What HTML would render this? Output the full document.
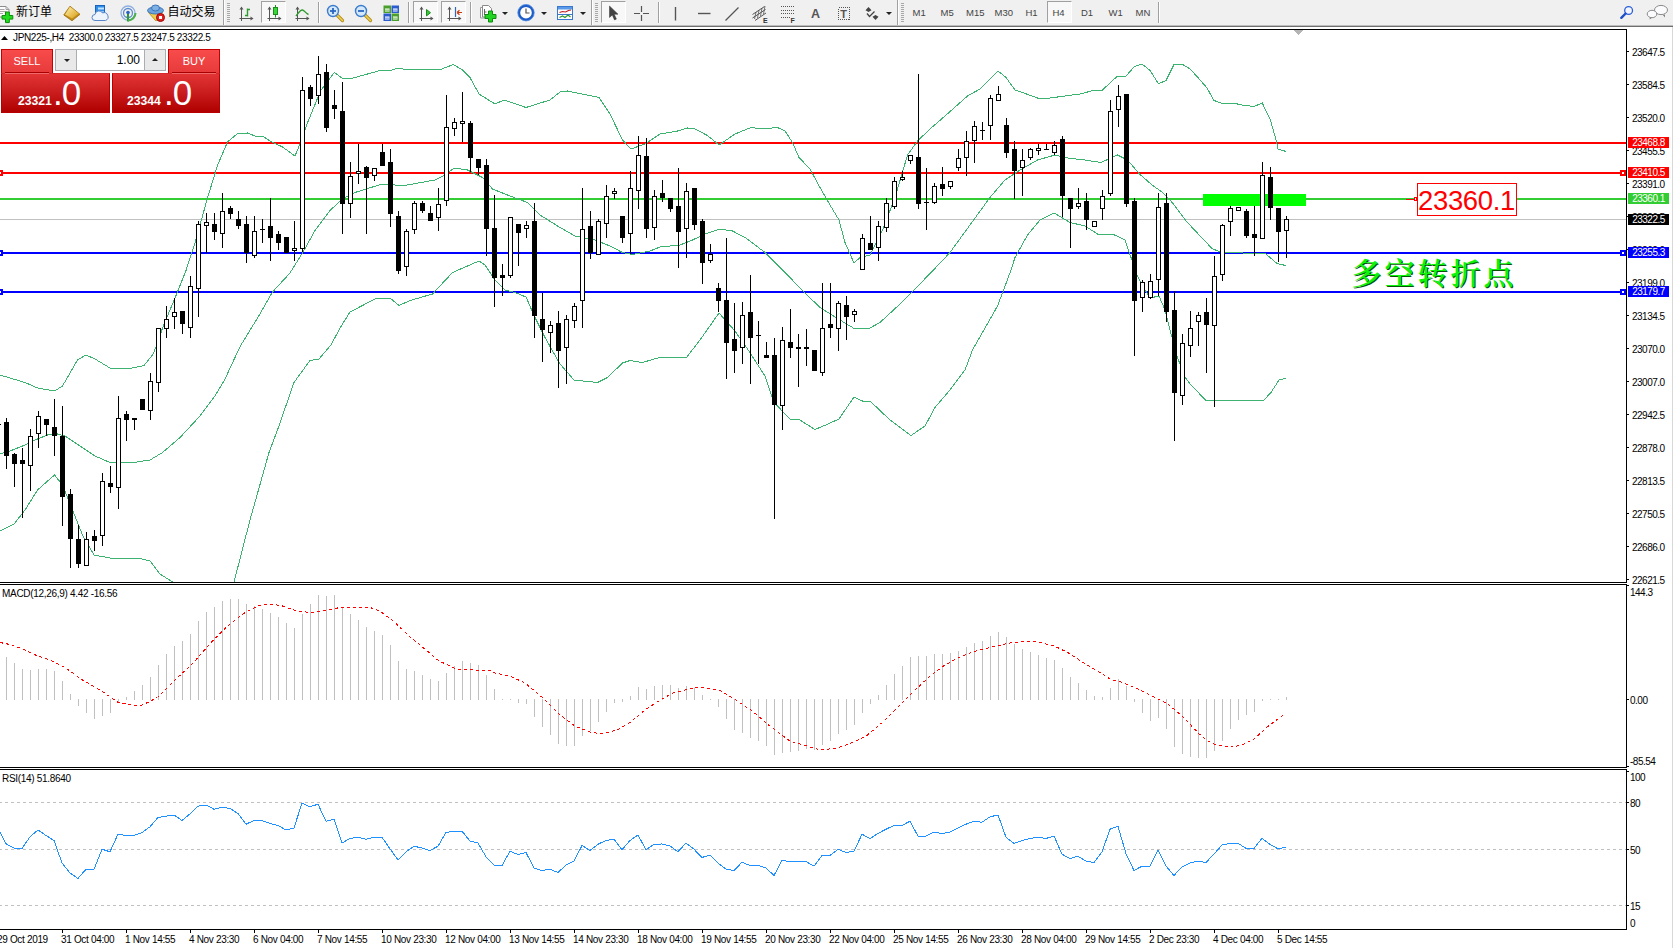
<!DOCTYPE html>
<html><head><meta charset="utf-8"><title>JPN225-,H4</title>
<style>
html,body{margin:0;padding:0;}
body{width:1673px;height:948px;overflow:hidden;background:#fff;position:relative;font-family:"Liberation Sans","Noto Sans CJK SC",sans-serif;color:#000;}
.ch{position:absolute;left:0;top:0;}
.ax{position:absolute;left:1632px;font-size:10px;letter-spacing:-0.5px;line-height:12px;height:12px;white-space:nowrap;}
.pb{position:absolute;left:1628px;width:41px;height:11px;color:#fff;font-size:10px;letter-spacing:-0.5px;line-height:11px;text-align:center;white-space:nowrap;overflow:hidden;}
.tm{position:absolute;top:933.5px;font-size:10px;letter-spacing:-0.33px;line-height:12px;white-space:nowrap;}
.lb{position:absolute;font-size:10px;letter-spacing:-0.3px;line-height:12px;white-space:nowrap;}
#tb{position:absolute;left:0;top:0;width:1673px;height:25px;background:#f0f0f0;}
#tb1{position:absolute;left:0;top:25px;width:1673px;height:1px;background:#bdbdbd;}
#tb2{position:absolute;left:0;top:26px;width:1673px;height:1px;background:#6e6e6e;}
.rb{position:absolute;right:0;top:27px;width:1px;height:921px;background:#d8d8d8;}
#big{position:absolute;left:1417px;top:183px;width:98px;height:31px;border:1px solid #f00;background:#fff;color:#f00;font-size:27.500px;line-height:33px;text-align:left;text-indent:0;white-space:nowrap;letter-spacing:-0.350px;overflow:hidden;}
#cn{position:absolute;left:1351.500px;top:250.700px;font-family:"Noto Serif CJK SC","Noto Sans CJK SC",serif;font-weight:600;font-size:30px;letter-spacing:3px;line-height:40px;color:#0cf40c;white-space:nowrap;text-shadow:1px 0.600px 0 #085008;}
/* trade panel */
.tp{position:absolute;}
.sellt,.buyt{position:absolute;top:49px;height:25px;width:52px;background:linear-gradient(#f84c4c,#e63a3a);border:1px solid #c40000;border-bottom:none;box-sizing:border-box;color:#fff;font-size:11px;line-height:22px;text-align:center;}
.sellt{left:1px;}
.buyt{left:168px;}
.pbx{position:absolute;top:73px;height:40px;box-sizing:border-box;border:1px solid #b80000;border-top-color:#d42a2a;background:linear-gradient(#e23434,#c91c1c 50%,#b00000);color:#fff;}
.pbx .s{position:absolute;font-weight:bold;font-size:12.200px;line-height:14px;top:20px;}
.pbx .b{position:absolute;font-size:35px;line-height:34px;top:2px;letter-spacing:-1px}
.ul{position:absolute;top:72px;height:1px;width:44px;background:#a80000;}
.ul2{position:absolute;top:73px;height:1px;width:44px;background:#f06a6a;}
.vol{position:absolute;left:55px;top:49px;width:111px;height:22px;box-sizing:border-box;border:1px solid #abadb3;background:#fff;}
.vol .btn{position:absolute;top:0;width:20px;height:20px;background:#e9e9e9;}
.vol .v{position:absolute;right:25px;top:0;font-size:12px;line-height:20px;}
/* toolbar */
.ti{position:absolute;top:0;}
.tt{position:absolute;top:4px;font-size:12px;line-height:16px;white-space:nowrap;}
.sep{position:absolute;top:2px;width:1px;height:21px;background:#a0a0a0;}
.grip{position:absolute;top:3px;width:3px;height:19px;background:repeating-linear-gradient(#a8a8a8 0 1px,#f0f0f0 1px 2px);}
.tf{position:absolute;top:7px;font-size:9.5px;line-height:12px;color:#444;white-space:nowrap;}
.prs{position:absolute;top:1px;height:22px;box-sizing:border-box;border:1px solid;border-color:#a0a0a0 #fff #fff #a0a0a0;background:#f8f8f8;}
.dd{position:absolute;top:12px;width:0;height:0;border-left:3px solid transparent;border-right:3px solid transparent;border-top:3px solid #222;}

</style></head><body>
<svg class="ch" width="1673" height="948" viewBox="0 0 1673 948" shape-rendering="crispEdges"><defs><clipPath id="cm"><rect x="0" y="30" width="1626" height="552"/></clipPath></defs><rect x="0" y="142" width="1626" height="2" fill="#ff0000"/>
<rect x="0" y="172" width="1626" height="2" fill="#ff0000"/>
<rect x="0" y="198" width="1626" height="2" fill="#32cd32"/>
<rect x="0" y="219" width="1626" height="1" fill="#c0c0c0"/>
<rect x="0" y="252" width="1626" height="2" fill="#0000ff"/>
<rect x="0" y="291" width="1626" height="2" fill="#0000ff"/>
<rect x="1203" y="194" width="103" height="12" fill="#00ff00"/>
<rect x="-3" y="170" width="6" height="6" fill="#ff0000"/><rect x="-1" y="172" width="2" height="2" fill="#fff"/>
<rect x="1620" y="170" width="6" height="6" fill="#ff0000"/><rect x="1622" y="172" width="2" height="2" fill="#fff"/>
<rect x="-3" y="250" width="6" height="6" fill="#0000ff"/><rect x="-1" y="252" width="2" height="2" fill="#fff"/>
<rect x="1620" y="250" width="6" height="6" fill="#0000ff"/><rect x="1622" y="252" width="2" height="2" fill="#fff"/>
<rect x="-3" y="289" width="6" height="6" fill="#0000ff"/><rect x="-1" y="291" width="2" height="2" fill="#fff"/>
<rect x="1620" y="289" width="6" height="6" fill="#0000ff"/><rect x="1622" y="291" width="2" height="2" fill="#fff"/>
<polyline points="0.0,375.0 25.0,382.5 37.5,388.0 54.5,391.0 62.5,386.0 77.5,360.0 86.0,355.0 95.0,359.0 110.0,368.0 117.5,369.0 132.5,368.0 144.0,365.5 152.5,355.0 157.0,345.0 162.5,328.0 175.0,298.0 186.0,270.5 195.0,243.0 207.5,198.0 217.5,165.5 227.5,142.0 237.5,133.5 247.5,133.0 255.0,136.0 262.5,136.0 270.0,141.0 282.5,147.0 295.0,156.0 300.0,144.0 307.0,124.0 314.3,106.3 320.3,91.3 324.3,85.7 329.3,79.2 334.4,72.4 342.4,78.5 351.4,78.5 380.5,70.4 390.6,70.4 397.6,68.2 402.6,68.2 403.6,69.5 418.0,69.5 439.0,70.0 453.5,64.5 462.5,70.0 470.0,77.5 479.0,94.0 495.0,104.0 504.0,100.0 526.0,107.5 550.0,100.0 560.0,92.0 567.5,91.0 599.0,97.5 610.0,114.0 622.5,140.0 631.0,149.0 645.0,144.0 660.0,134.0 677.5,131.0 687.5,128.0 695.0,129.0 707.5,135.5 719.0,145.0 735.0,134.0 751.0,127.5 762.5,129.0 777.5,127.5 785.0,131.0 792.5,142.5 799.0,157.5 810.0,169.0 820.0,187.5 830.0,205.0 839.0,220.0 845.0,242.5 854.0,263.0 860.0,257.5 870.0,255.0 882.5,230.0 895.0,197.5 907.5,155.0 917.5,141.0 930.0,129.0 945.0,116.0 967.5,96.0 980.0,89.0 998.0,71.0 1006.0,77.5 1015.0,90.0 1022.5,92.5 1037.5,98.0 1050.0,98.0 1080.0,94.0 1095.0,90.0 1102.5,90.0 1117.5,76.0 1126.0,76.0 1130.0,71.6 1134.4,66.6 1142.0,64.0 1150.0,70.4 1158.5,83.7 1166.0,80.5 1174.3,64.0 1182.0,64.0 1190.0,69.0 1198.4,78.0 1207.0,88.0 1214.0,100.5 1221.8,103.3 1234.4,103.3 1242.7,105.2 1254.0,106.5 1262.3,103.0 1270.5,120.4 1276.8,142.5 1278.0,148.9 1285.7,151.4" fill="none" stroke="#3cb371" stroke-width="1" clip-path="url(#cm)"/>
<polyline points="0.0,454.0 10.0,451.0 25.0,445.0 37.5,439.0 47.5,435.0 57.5,434.0 65.0,436.0 80.0,446.0 95.0,456.0 110.0,462.5 130.0,463.0 150.0,460.0 162.5,452.5 180.0,437.5 200.0,416.0 215.0,396.0 225.0,379.0 235.0,357.5 241.0,345.0 257.5,318.0 272.5,292.0 290.0,273.0 302.5,253.0 315.0,230.5 330.0,210.5 342.5,199.0 355.0,192.5 367.5,188.5 382.5,184.0 390.0,184.0 400.0,186.0 410.0,184.5 435.0,180.0 445.0,175.0 454.0,168.0 467.5,170.0 482.5,177.5 492.5,189.0 510.0,196.0 527.5,202.5 540.0,215.0 560.0,227.5 575.0,236.0 595.0,240.0 610.0,246.0 622.5,252.5 632.5,254.5 650.0,251.0 660.0,247.0 680.0,245.0 692.5,240.0 705.0,234.0 720.0,229.0 732.5,231.0 745.0,237.5 765.0,252.5 785.0,272.5 805.0,293.0 820.0,307.5 840.0,320.0 855.0,329.0 870.0,328.0 880.0,322.5 900.0,304.0 915.0,289.0 932.5,271.0 950.0,252.5 970.0,225.0 990.0,197.5 1005.0,180.0 1020.0,170.0 1037.5,160.0 1055.0,155.0 1067.5,158.0 1085.0,160.0 1101.0,162.5 1117.5,155.0 1127.5,160.0 1139.5,174.0 1152.0,185.0 1161.6,191.7 1171.0,201.0 1187.0,222.0 1203.0,239.0 1212.0,248.5 1220.0,252.0 1266.0,254.0 1277.0,263.5 1285.7,265.5" fill="none" stroke="#3cb371" stroke-width="1" clip-path="url(#cm)"/>
<polyline points="0.0,531.0 14.0,524.0 25.0,510.0 37.5,490.0 54.5,475.0 62.5,485.0 72.5,510.0 82.5,535.0 94.0,555.0 110.0,558.0 137.5,558.0 150.0,561.0 160.0,574.0 172.5,582.0 190.0,610.0 215.0,620.0 234.0,582.0 250.0,520.0 269.0,452.5 277.5,430.0 294.0,382.5 310.0,360.5 319.0,359.0 331.0,345.0 340.0,328.0 350.0,312.0 362.5,305.5 375.0,299.0 390.0,298.0 399.0,305.5 410.0,300.5 432.5,294.0 452.5,272.5 467.5,266.0 479.0,261.0 485.0,265.0 495.0,280.0 505.0,290.0 515.0,292.5 526.0,297.0 535.0,317.5 545.0,337.5 560.0,364.0 574.0,380.0 597.5,382.5 607.5,377.5 622.5,363.0 630.0,360.5 642.5,362.5 661.0,357.0 682.5,357.0 686.0,358.0 700.0,340.0 719.0,313.0 735.0,331.0 747.5,349.0 765.0,376.0 774.0,402.5 790.0,419.0 799.0,419.5 815.0,429.5 828.0,424.0 839.0,419.0 854.0,397.0 862.5,401.0 870.0,401.0 890.0,420.0 911.0,435.5 925.0,426.0 935.0,407.5 950.0,390.0 965.0,370.0 972.5,350.0 982.5,332.5 997.5,306.0 1004.0,289.0 1011.0,270.0 1015.0,257.5 1027.5,235.0 1040.0,220.0 1054.0,213.0 1070.0,222.5 1085.0,226.0 1097.5,234.0 1112.5,234.0 1125.0,240.0 1131.0,257.5 1137.5,276.0 1145.0,290.0 1150.0,298.0 1159.0,296.0 1165.0,310.0 1170.0,330.0 1177.5,357.5 1185.0,377.0 1190.0,384.0 1206.0,400.5 1250.0,400.5 1263.0,401.0 1271.0,392.5 1279.0,380.0 1285.7,378.5" fill="none" stroke="#3cb371" stroke-width="1" clip-path="url(#cm)"/>
<g clip-path="url(#cm)"><rect x="6" y="418" width="1" height="51" fill="#000"/><rect x="4" y="422" width="5" height="34" fill="#000"/><rect x="14" y="453" width="1" height="34" fill="#000"/><rect x="12" y="454" width="5" height="10" fill="#000"/><rect x="22" y="448" width="1" height="70" fill="#000"/><rect x="20" y="460" width="5" height="4" fill="#000"/><rect x="30" y="429" width="1" height="62" fill="#000"/><rect x="28" y="436" width="5" height="30" fill="#000"/><rect x="29" y="437" width="3" height="28" fill="#fff"/><rect x="38" y="411" width="1" height="37" fill="#000"/><rect x="36" y="416" width="5" height="18" fill="#000"/><rect x="37" y="417" width="3" height="16" fill="#fff"/><rect x="46" y="419" width="1" height="17" fill="#000"/><rect x="44" y="419" width="5" height="6" fill="#000"/><rect x="54" y="399" width="1" height="57" fill="#000"/><rect x="52" y="427" width="5" height="9" fill="#000"/><rect x="62" y="406" width="1" height="120" fill="#000"/><rect x="60" y="436" width="5" height="61" fill="#000"/><rect x="70" y="489" width="1" height="79" fill="#000"/><rect x="68" y="494" width="5" height="45" fill="#000"/><rect x="78" y="525" width="1" height="43" fill="#000"/><rect x="76" y="539" width="5" height="25" fill="#000"/><rect x="86" y="532" width="1" height="34" fill="#000"/><rect x="84" y="539" width="5" height="27" fill="#000"/><rect x="85" y="540" width="3" height="25" fill="#fff"/><rect x="94" y="530" width="1" height="21" fill="#000"/><rect x="92" y="536" width="5" height="5" fill="#000"/><rect x="102" y="473" width="1" height="73" fill="#000"/><rect x="100" y="481" width="5" height="55" fill="#000"/><rect x="101" y="482" width="3" height="53" fill="#fff"/><rect x="110" y="466" width="1" height="27" fill="#000"/><rect x="108" y="483" width="5" height="4" fill="#000"/><rect x="118" y="396" width="1" height="113" fill="#000"/><rect x="116" y="418" width="5" height="70" fill="#000"/><rect x="117" y="419" width="3" height="68" fill="#fff"/><rect x="126" y="411" width="1" height="30" fill="#000"/><rect x="124" y="414" width="5" height="6" fill="#000"/><rect x="134" y="418" width="1" height="12" fill="#000"/><rect x="132" y="418" width="5" height="2" fill="#000"/><rect x="142" y="399" width="1" height="11" fill="#000"/><rect x="140" y="399" width="5" height="11" fill="#000"/><rect x="150" y="373" width="1" height="47" fill="#000"/><rect x="148" y="381" width="5" height="30" fill="#000"/><rect x="149" y="382" width="3" height="28" fill="#fff"/><rect x="158" y="328" width="1" height="64" fill="#000"/><rect x="156" y="328" width="5" height="55" fill="#000"/><rect x="157" y="329" width="3" height="53" fill="#fff"/><rect x="166" y="306" width="1" height="32" fill="#000"/><rect x="164" y="319" width="5" height="10" fill="#000"/><rect x="165" y="320" width="3" height="8" fill="#fff"/><rect x="174" y="298" width="1" height="31" fill="#000"/><rect x="172" y="312" width="5" height="5" fill="#000"/><rect x="173" y="313" width="3" height="3" fill="#fff"/><rect x="182" y="311" width="1" height="23" fill="#000"/><rect x="180" y="311" width="5" height="13" fill="#000"/><rect x="190" y="276" width="1" height="62" fill="#000"/><rect x="188" y="286" width="5" height="42" fill="#000"/><rect x="189" y="287" width="3" height="40" fill="#fff"/><rect x="198" y="221" width="1" height="96" fill="#000"/><rect x="196" y="224" width="5" height="65" fill="#000"/><rect x="197" y="225" width="3" height="63" fill="#fff"/><rect x="206" y="213" width="1" height="40" fill="#000"/><rect x="204" y="222" width="5" height="4" fill="#000"/><rect x="205" y="223" width="3" height="2" fill="#fff"/><rect x="214" y="213" width="1" height="27" fill="#000"/><rect x="212" y="224" width="5" height="8" fill="#000"/><rect x="222" y="193" width="1" height="55" fill="#000"/><rect x="220" y="211" width="5" height="23" fill="#000"/><rect x="221" y="212" width="3" height="21" fill="#fff"/><rect x="230" y="206" width="1" height="13" fill="#000"/><rect x="228" y="208" width="5" height="6" fill="#000"/><rect x="238" y="211" width="1" height="18" fill="#000"/><rect x="236" y="219" width="5" height="7" fill="#000"/><rect x="246" y="216" width="1" height="47" fill="#000"/><rect x="244" y="224" width="5" height="29" fill="#000"/><rect x="254" y="216" width="1" height="42" fill="#000"/><rect x="252" y="231" width="5" height="25" fill="#000"/><rect x="253" y="232" width="3" height="23" fill="#fff"/><rect x="262" y="219" width="1" height="24" fill="#000"/><rect x="260" y="229" width="5" height="1" fill="#000"/><rect x="270" y="198" width="1" height="63" fill="#000"/><rect x="268" y="226" width="5" height="12" fill="#000"/><rect x="278" y="231" width="1" height="19" fill="#000"/><rect x="276" y="234" width="5" height="9" fill="#000"/><rect x="286" y="237" width="1" height="16" fill="#000"/><rect x="284" y="237" width="5" height="16" fill="#000"/><rect x="294" y="221" width="1" height="40" fill="#000"/><rect x="292" y="248" width="5" height="3" fill="#000"/><rect x="293" y="249" width="3" height="1" fill="#fff"/><rect x="302" y="77" width="1" height="175" fill="#000"/><rect x="300" y="90" width="5" height="159" fill="#000"/><rect x="301" y="91" width="3" height="157" fill="#fff"/><rect x="310" y="85" width="1" height="21" fill="#000"/><rect x="308" y="87" width="5" height="12" fill="#000"/><rect x="318" y="56" width="1" height="48" fill="#000"/><rect x="316" y="74" width="5" height="22" fill="#000"/><rect x="317" y="75" width="3" height="20" fill="#fff"/><rect x="326" y="64" width="1" height="68" fill="#000"/><rect x="324" y="72" width="5" height="56" fill="#000"/><rect x="334" y="90" width="1" height="29" fill="#000"/><rect x="332" y="105" width="5" height="4" fill="#000"/><rect x="342" y="82" width="1" height="152" fill="#000"/><rect x="340" y="111" width="5" height="93" fill="#000"/><rect x="350" y="162" width="1" height="56" fill="#000"/><rect x="348" y="176" width="5" height="28" fill="#000"/><rect x="349" y="177" width="3" height="26" fill="#fff"/><rect x="358" y="144" width="1" height="40" fill="#000"/><rect x="356" y="171" width="5" height="3" fill="#000"/><rect x="357" y="172" width="3" height="1" fill="#fff"/><rect x="366" y="166" width="1" height="68" fill="#000"/><rect x="364" y="167" width="5" height="11" fill="#000"/><rect x="374" y="168" width="1" height="13" fill="#000"/><rect x="372" y="168" width="5" height="8" fill="#000"/><rect x="373" y="169" width="3" height="6" fill="#fff"/><rect x="382" y="144" width="1" height="22" fill="#000"/><rect x="380" y="152" width="5" height="14" fill="#000"/><rect x="390" y="149" width="1" height="78" fill="#000"/><rect x="388" y="162" width="5" height="52" fill="#000"/><rect x="398" y="211" width="1" height="63" fill="#000"/><rect x="396" y="216" width="5" height="55" fill="#000"/><rect x="406" y="229" width="1" height="47" fill="#000"/><rect x="404" y="231" width="5" height="36" fill="#000"/><rect x="405" y="232" width="3" height="34" fill="#fff"/><rect x="414" y="201" width="1" height="33" fill="#000"/><rect x="412" y="203" width="5" height="27" fill="#000"/><rect x="413" y="204" width="3" height="25" fill="#fff"/><rect x="422" y="201" width="1" height="12" fill="#000"/><rect x="420" y="203" width="5" height="8" fill="#000"/><rect x="430" y="206" width="1" height="15" fill="#000"/><rect x="428" y="213" width="5" height="8" fill="#000"/><rect x="438" y="188" width="1" height="43" fill="#000"/><rect x="436" y="204" width="5" height="14" fill="#000"/><rect x="437" y="205" width="3" height="12" fill="#fff"/><rect x="446" y="95" width="1" height="111" fill="#000"/><rect x="444" y="127" width="5" height="74" fill="#000"/><rect x="445" y="128" width="3" height="72" fill="#fff"/><rect x="454" y="118" width="1" height="18" fill="#000"/><rect x="452" y="122" width="5" height="7" fill="#000"/><rect x="453" y="123" width="3" height="5" fill="#fff"/><rect x="462" y="92" width="1" height="50" fill="#000"/><rect x="460" y="121" width="5" height="3" fill="#000"/><rect x="461" y="122" width="3" height="1" fill="#fff"/><rect x="470" y="121" width="1" height="51" fill="#000"/><rect x="468" y="123" width="5" height="35" fill="#000"/><rect x="478" y="159" width="1" height="16" fill="#000"/><rect x="476" y="159" width="5" height="9" fill="#000"/><rect x="486" y="159" width="1" height="97" fill="#000"/><rect x="484" y="165" width="5" height="64" fill="#000"/><rect x="494" y="195" width="1" height="112" fill="#000"/><rect x="492" y="228" width="5" height="50" fill="#000"/><rect x="502" y="264" width="1" height="32" fill="#000"/><rect x="500" y="275" width="5" height="3" fill="#000"/><rect x="510" y="217" width="1" height="61" fill="#000"/><rect x="508" y="217" width="5" height="59" fill="#000"/><rect x="509" y="218" width="3" height="57" fill="#fff"/><rect x="518" y="224" width="1" height="42" fill="#000"/><rect x="516" y="224" width="5" height="9" fill="#000"/><rect x="526" y="221" width="1" height="17" fill="#000"/><rect x="524" y="225" width="5" height="4" fill="#000"/><rect x="525" y="226" width="3" height="2" fill="#fff"/><rect x="534" y="203" width="1" height="135" fill="#000"/><rect x="532" y="221" width="5" height="95" fill="#000"/><rect x="542" y="293" width="1" height="69" fill="#000"/><rect x="540" y="319" width="5" height="11" fill="#000"/><rect x="550" y="321" width="1" height="32" fill="#000"/><rect x="548" y="325" width="5" height="8" fill="#000"/><rect x="549" y="326" width="3" height="6" fill="#fff"/><rect x="558" y="311" width="1" height="77" fill="#000"/><rect x="556" y="323" width="5" height="28" fill="#000"/><rect x="566" y="315" width="1" height="69" fill="#000"/><rect x="564" y="319" width="5" height="29" fill="#000"/><rect x="565" y="320" width="3" height="27" fill="#fff"/><rect x="574" y="303" width="1" height="25" fill="#000"/><rect x="572" y="306" width="5" height="15" fill="#000"/><rect x="573" y="307" width="3" height="13" fill="#fff"/><rect x="582" y="188" width="1" height="140" fill="#000"/><rect x="580" y="229" width="5" height="72" fill="#000"/><rect x="581" y="230" width="3" height="70" fill="#fff"/><rect x="590" y="211" width="1" height="48" fill="#000"/><rect x="588" y="226" width="5" height="27" fill="#000"/><rect x="598" y="219" width="1" height="36" fill="#000"/><rect x="596" y="221" width="5" height="34" fill="#000"/><rect x="597" y="222" width="3" height="32" fill="#fff"/><rect x="606" y="185" width="1" height="53" fill="#000"/><rect x="604" y="196" width="5" height="28" fill="#000"/><rect x="605" y="197" width="3" height="26" fill="#fff"/><rect x="614" y="188" width="1" height="11" fill="#000"/><rect x="612" y="191" width="5" height="3" fill="#000"/><rect x="613" y="192" width="3" height="1" fill="#fff"/><rect x="622" y="216" width="1" height="27" fill="#000"/><rect x="620" y="216" width="5" height="22" fill="#000"/><rect x="630" y="171" width="1" height="83" fill="#000"/><rect x="628" y="188" width="5" height="46" fill="#000"/><rect x="629" y="189" width="3" height="44" fill="#fff"/><rect x="638" y="136" width="1" height="73" fill="#000"/><rect x="636" y="155" width="5" height="36" fill="#000"/><rect x="637" y="156" width="3" height="34" fill="#fff"/><rect x="646" y="138" width="1" height="100" fill="#000"/><rect x="644" y="156" width="5" height="73" fill="#000"/><rect x="654" y="190" width="1" height="50" fill="#000"/><rect x="652" y="196" width="5" height="32" fill="#000"/><rect x="653" y="197" width="3" height="30" fill="#fff"/><rect x="662" y="180" width="1" height="22" fill="#000"/><rect x="660" y="193" width="5" height="5" fill="#000"/><rect x="670" y="198" width="1" height="14" fill="#000"/><rect x="668" y="198" width="5" height="11" fill="#000"/><rect x="678" y="168" width="1" height="100" fill="#000"/><rect x="676" y="206" width="5" height="26" fill="#000"/><rect x="686" y="183" width="1" height="75" fill="#000"/><rect x="684" y="191" width="5" height="38" fill="#000"/><rect x="685" y="192" width="3" height="36" fill="#fff"/><rect x="694" y="188" width="1" height="42" fill="#000"/><rect x="692" y="188" width="5" height="37" fill="#000"/><rect x="702" y="219" width="1" height="65" fill="#000"/><rect x="700" y="221" width="5" height="42" fill="#000"/><rect x="710" y="244" width="1" height="19" fill="#000"/><rect x="708" y="254" width="5" height="7" fill="#000"/><rect x="709" y="255" width="3" height="5" fill="#fff"/><rect x="718" y="283" width="1" height="29" fill="#000"/><rect x="716" y="288" width="5" height="13" fill="#000"/><rect x="726" y="238" width="1" height="141" fill="#000"/><rect x="724" y="300" width="5" height="43" fill="#000"/><rect x="734" y="303" width="1" height="70" fill="#000"/><rect x="732" y="339" width="5" height="12" fill="#000"/><rect x="742" y="302" width="1" height="62" fill="#000"/><rect x="740" y="315" width="5" height="33" fill="#000"/><rect x="741" y="316" width="3" height="31" fill="#fff"/><rect x="750" y="275" width="1" height="109" fill="#000"/><rect x="748" y="312" width="5" height="26" fill="#000"/><rect x="758" y="321" width="1" height="43" fill="#000"/><rect x="756" y="335" width="5" height="1" fill="#000"/><rect x="766" y="342" width="1" height="16" fill="#000"/><rect x="764" y="355" width="5" height="3" fill="#000"/><rect x="774" y="338" width="1" height="181" fill="#000"/><rect x="772" y="355" width="5" height="50" fill="#000"/><rect x="782" y="327" width="1" height="103" fill="#000"/><rect x="780" y="340" width="5" height="66" fill="#000"/><rect x="781" y="341" width="3" height="64" fill="#fff"/><rect x="790" y="309" width="1" height="49" fill="#000"/><rect x="788" y="342" width="5" height="6" fill="#000"/><rect x="798" y="334" width="1" height="53" fill="#000"/><rect x="796" y="347" width="5" height="2" fill="#000"/><rect x="806" y="329" width="1" height="37" fill="#000"/><rect x="804" y="347" width="5" height="2" fill="#000"/><rect x="814" y="350" width="1" height="21" fill="#000"/><rect x="812" y="350" width="5" height="21" fill="#000"/><rect x="822" y="283" width="1" height="93" fill="#000"/><rect x="820" y="328" width="5" height="45" fill="#000"/><rect x="821" y="329" width="3" height="43" fill="#fff"/><rect x="830" y="283" width="1" height="55" fill="#000"/><rect x="828" y="324" width="5" height="4" fill="#000"/><rect x="838" y="301" width="1" height="50" fill="#000"/><rect x="836" y="303" width="5" height="26" fill="#000"/><rect x="837" y="304" width="3" height="24" fill="#fff"/><rect x="846" y="296" width="1" height="44" fill="#000"/><rect x="844" y="305" width="5" height="12" fill="#000"/><rect x="854" y="309" width="1" height="13" fill="#000"/><rect x="852" y="311" width="5" height="4" fill="#000"/><rect x="853" y="312" width="3" height="2" fill="#fff"/><rect x="862" y="234" width="1" height="36" fill="#000"/><rect x="860" y="238" width="5" height="32" fill="#000"/><rect x="861" y="239" width="3" height="30" fill="#fff"/><rect x="870" y="216" width="1" height="34" fill="#000"/><rect x="868" y="243" width="5" height="7" fill="#000"/><rect x="878" y="221" width="1" height="40" fill="#000"/><rect x="876" y="226" width="5" height="22" fill="#000"/><rect x="877" y="227" width="3" height="20" fill="#fff"/><rect x="886" y="198" width="1" height="34" fill="#000"/><rect x="884" y="203" width="5" height="25" fill="#000"/><rect x="885" y="204" width="3" height="23" fill="#fff"/><rect x="894" y="177" width="1" height="32" fill="#000"/><rect x="892" y="181" width="5" height="26" fill="#000"/><rect x="893" y="182" width="3" height="24" fill="#fff"/><rect x="902" y="171" width="1" height="10" fill="#000"/><rect x="900" y="177" width="5" height="3" fill="#000"/><rect x="901" y="178" width="3" height="1" fill="#fff"/><rect x="910" y="155" width="1" height="9" fill="#000"/><rect x="908" y="155" width="5" height="6" fill="#000"/><rect x="909" y="156" width="3" height="4" fill="#fff"/><rect x="918" y="74" width="1" height="135" fill="#000"/><rect x="916" y="157" width="5" height="47" fill="#000"/><rect x="926" y="168" width="1" height="62" fill="#000"/><rect x="924" y="202" width="5" height="1" fill="#000"/><rect x="934" y="183" width="1" height="21" fill="#000"/><rect x="932" y="186" width="5" height="17" fill="#000"/><rect x="933" y="187" width="3" height="15" fill="#fff"/><rect x="942" y="167" width="1" height="29" fill="#000"/><rect x="940" y="184" width="5" height="5" fill="#000"/><rect x="950" y="181" width="1" height="8" fill="#000"/><rect x="948" y="181" width="5" height="6" fill="#000"/><rect x="949" y="182" width="3" height="4" fill="#fff"/><rect x="958" y="149" width="1" height="22" fill="#000"/><rect x="956" y="158" width="5" height="10" fill="#000"/><rect x="957" y="159" width="3" height="8" fill="#fff"/><rect x="966" y="131" width="1" height="45" fill="#000"/><rect x="964" y="141" width="5" height="17" fill="#000"/><rect x="965" y="142" width="3" height="15" fill="#fff"/><rect x="974" y="121" width="1" height="42" fill="#000"/><rect x="972" y="126" width="5" height="15" fill="#000"/><rect x="973" y="127" width="3" height="13" fill="#fff"/><rect x="982" y="122" width="1" height="18" fill="#000"/><rect x="980" y="130" width="5" height="1" fill="#000"/><rect x="990" y="95" width="1" height="45" fill="#000"/><rect x="988" y="98" width="5" height="28" fill="#000"/><rect x="989" y="99" width="3" height="26" fill="#fff"/><rect x="998" y="86" width="1" height="15" fill="#000"/><rect x="996" y="94" width="5" height="7" fill="#000"/><rect x="997" y="95" width="3" height="5" fill="#fff"/><rect x="1006" y="118" width="1" height="40" fill="#000"/><rect x="1004" y="125" width="5" height="28" fill="#000"/><rect x="1014" y="141" width="1" height="58" fill="#000"/><rect x="1012" y="149" width="5" height="22" fill="#000"/><rect x="1022" y="149" width="1" height="47" fill="#000"/><rect x="1020" y="160" width="5" height="8" fill="#000"/><rect x="1021" y="161" width="3" height="6" fill="#fff"/><rect x="1030" y="148" width="1" height="12" fill="#000"/><rect x="1028" y="149" width="5" height="9" fill="#000"/><rect x="1029" y="150" width="3" height="7" fill="#fff"/><rect x="1038" y="144" width="1" height="11" fill="#000"/><rect x="1036" y="148" width="5" height="3" fill="#000"/><rect x="1037" y="149" width="3" height="1" fill="#fff"/><rect x="1046" y="144" width="1" height="5" fill="#000"/><rect x="1044" y="149" width="5" height="1" fill="#000"/><rect x="1054" y="141" width="1" height="14" fill="#000"/><rect x="1052" y="145" width="5" height="8" fill="#000"/><rect x="1053" y="146" width="3" height="6" fill="#fff"/><rect x="1062" y="136" width="1" height="81" fill="#000"/><rect x="1060" y="139" width="5" height="57" fill="#000"/><rect x="1070" y="198" width="1" height="50" fill="#000"/><rect x="1068" y="198" width="5" height="11" fill="#000"/><rect x="1078" y="188" width="1" height="21" fill="#000"/><rect x="1076" y="203" width="5" height="4" fill="#000"/><rect x="1077" y="204" width="3" height="2" fill="#fff"/><rect x="1086" y="193" width="1" height="37" fill="#000"/><rect x="1084" y="201" width="5" height="19" fill="#000"/><rect x="1094" y="221" width="1" height="6" fill="#000"/><rect x="1092" y="221" width="5" height="6" fill="#000"/><rect x="1093" y="222" width="3" height="4" fill="#fff"/><rect x="1102" y="190" width="1" height="30" fill="#000"/><rect x="1100" y="196" width="5" height="13" fill="#000"/><rect x="1101" y="197" width="3" height="11" fill="#fff"/><rect x="1110" y="100" width="1" height="96" fill="#000"/><rect x="1108" y="111" width="5" height="83" fill="#000"/><rect x="1109" y="112" width="3" height="81" fill="#fff"/><rect x="1118" y="85" width="1" height="42" fill="#000"/><rect x="1116" y="96" width="5" height="14" fill="#000"/><rect x="1117" y="97" width="3" height="12" fill="#fff"/><rect x="1126" y="94" width="1" height="113" fill="#000"/><rect x="1124" y="94" width="5" height="110" fill="#000"/><rect x="1134" y="198" width="1" height="158" fill="#000"/><rect x="1132" y="201" width="5" height="100" fill="#000"/><rect x="1142" y="280" width="1" height="32" fill="#000"/><rect x="1140" y="282" width="5" height="16" fill="#000"/><rect x="1141" y="283" width="3" height="14" fill="#fff"/><rect x="1150" y="274" width="1" height="25" fill="#000"/><rect x="1148" y="281" width="5" height="17" fill="#000"/><rect x="1149" y="282" width="3" height="15" fill="#fff"/><rect x="1158" y="193" width="1" height="103" fill="#000"/><rect x="1156" y="207" width="5" height="73" fill="#000"/><rect x="1157" y="208" width="3" height="71" fill="#fff"/><rect x="1166" y="193" width="1" height="129" fill="#000"/><rect x="1164" y="203" width="5" height="109" fill="#000"/><rect x="1174" y="291" width="1" height="150" fill="#000"/><rect x="1172" y="310" width="5" height="83" fill="#000"/><rect x="1182" y="334" width="1" height="71" fill="#000"/><rect x="1180" y="343" width="5" height="53" fill="#000"/><rect x="1181" y="344" width="3" height="51" fill="#fff"/><rect x="1190" y="311" width="1" height="46" fill="#000"/><rect x="1188" y="328" width="5" height="18" fill="#000"/><rect x="1189" y="329" width="3" height="16" fill="#fff"/><rect x="1198" y="312" width="1" height="34" fill="#000"/><rect x="1196" y="315" width="5" height="7" fill="#000"/><rect x="1197" y="316" width="3" height="5" fill="#fff"/><rect x="1206" y="298" width="1" height="75" fill="#000"/><rect x="1204" y="312" width="5" height="13" fill="#000"/><rect x="1214" y="256" width="1" height="151" fill="#000"/><rect x="1212" y="276" width="5" height="50" fill="#000"/><rect x="1213" y="277" width="3" height="48" fill="#fff"/><rect x="1222" y="224" width="1" height="57" fill="#000"/><rect x="1220" y="225" width="5" height="50" fill="#000"/><rect x="1221" y="226" width="3" height="48" fill="#fff"/><rect x="1230" y="206" width="1" height="30" fill="#000"/><rect x="1228" y="208" width="5" height="14" fill="#000"/><rect x="1229" y="209" width="3" height="12" fill="#fff"/><rect x="1238" y="207" width="1" height="4" fill="#000"/><rect x="1236" y="207" width="5" height="4" fill="#000"/><rect x="1237" y="208" width="3" height="2" fill="#fff"/><rect x="1246" y="209" width="1" height="29" fill="#000"/><rect x="1244" y="211" width="5" height="25" fill="#000"/><rect x="1254" y="206" width="1" height="50" fill="#000"/><rect x="1252" y="234" width="5" height="4" fill="#000"/><rect x="1262" y="162" width="1" height="77" fill="#000"/><rect x="1260" y="175" width="5" height="64" fill="#000"/><rect x="1261" y="176" width="3" height="62" fill="#fff"/><rect x="1270" y="167" width="1" height="53" fill="#000"/><rect x="1268" y="177" width="5" height="31" fill="#000"/><rect x="1278" y="208" width="1" height="54" fill="#000"/><rect x="1276" y="208" width="5" height="24" fill="#000"/><rect x="1286" y="216" width="1" height="42" fill="#000"/><rect x="1284" y="219" width="5" height="12" fill="#000"/><rect x="1285" y="220" width="3" height="10" fill="#fff"/><rect x="0" y="424" width="1" height="1" fill="#000"/></g>
<rect x="6" y="657" width="1" height="43" fill="#c0c0c0"/><rect x="14" y="663" width="1" height="37" fill="#c0c0c0"/><rect x="22" y="669" width="1" height="31" fill="#c0c0c0"/><rect x="30" y="670" width="1" height="30" fill="#c0c0c0"/><rect x="38" y="669" width="1" height="31" fill="#c0c0c0"/><rect x="46" y="669" width="1" height="31" fill="#c0c0c0"/><rect x="54" y="671" width="1" height="29" fill="#c0c0c0"/><rect x="62" y="681" width="1" height="19" fill="#c0c0c0"/><rect x="70" y="694" width="1" height="6" fill="#c0c0c0"/><rect x="78" y="699" width="1" height="7" fill="#c0c0c0"/><rect x="86" y="699" width="1" height="14" fill="#c0c0c0"/><rect x="94" y="699" width="1" height="20" fill="#c0c0c0"/><rect x="102" y="699" width="1" height="17" fill="#c0c0c0"/><rect x="110" y="699" width="1" height="14" fill="#c0c0c0"/><rect x="118" y="699" width="1" height="3" fill="#c0c0c0"/><rect x="126" y="697" width="1" height="3" fill="#c0c0c0"/><rect x="134" y="691" width="1" height="9" fill="#c0c0c0"/><rect x="142" y="685" width="1" height="15" fill="#c0c0c0"/><rect x="150" y="677" width="1" height="23" fill="#c0c0c0"/><rect x="158" y="665" width="1" height="35" fill="#c0c0c0"/><rect x="166" y="654" width="1" height="46" fill="#c0c0c0"/><rect x="174" y="646" width="1" height="54" fill="#c0c0c0"/><rect x="182" y="641" width="1" height="59" fill="#c0c0c0"/><rect x="190" y="634" width="1" height="66" fill="#c0c0c0"/><rect x="198" y="621" width="1" height="79" fill="#c0c0c0"/><rect x="206" y="612" width="1" height="88" fill="#c0c0c0"/><rect x="214" y="607" width="1" height="93" fill="#c0c0c0"/><rect x="222" y="601" width="1" height="99" fill="#c0c0c0"/><rect x="230" y="599" width="1" height="101" fill="#c0c0c0"/><rect x="238" y="599" width="1" height="101" fill="#c0c0c0"/><rect x="246" y="604" width="1" height="96" fill="#c0c0c0"/><rect x="254" y="606" width="1" height="94" fill="#c0c0c0"/><rect x="262" y="609" width="1" height="91" fill="#c0c0c0"/><rect x="270" y="613" width="1" height="87" fill="#c0c0c0"/><rect x="278" y="617" width="1" height="83" fill="#c0c0c0"/><rect x="286" y="623" width="1" height="77" fill="#c0c0c0"/><rect x="294" y="628" width="1" height="72" fill="#c0c0c0"/><rect x="302" y="614" width="1" height="86" fill="#c0c0c0"/><rect x="310" y="604" width="1" height="96" fill="#c0c0c0"/><rect x="318" y="595" width="1" height="105" fill="#c0c0c0"/><rect x="326" y="596" width="1" height="104" fill="#c0c0c0"/><rect x="334" y="595" width="1" height="105" fill="#c0c0c0"/><rect x="342" y="608" width="1" height="92" fill="#c0c0c0"/><rect x="350" y="614" width="1" height="86" fill="#c0c0c0"/><rect x="358" y="620" width="1" height="80" fill="#c0c0c0"/><rect x="366" y="627" width="1" height="73" fill="#c0c0c0"/><rect x="374" y="631" width="1" height="69" fill="#c0c0c0"/><rect x="382" y="635" width="1" height="65" fill="#c0c0c0"/><rect x="390" y="645" width="1" height="55" fill="#c0c0c0"/><rect x="398" y="661" width="1" height="39" fill="#c0c0c0"/><rect x="406" y="669" width="1" height="31" fill="#c0c0c0"/><rect x="414" y="671" width="1" height="29" fill="#c0c0c0"/><rect x="422" y="675" width="1" height="25" fill="#c0c0c0"/><rect x="430" y="679" width="1" height="21" fill="#c0c0c0"/><rect x="438" y="681" width="1" height="19" fill="#c0c0c0"/><rect x="446" y="673" width="1" height="27" fill="#c0c0c0"/><rect x="454" y="666" width="1" height="34" fill="#c0c0c0"/><rect x="462" y="661" width="1" height="39" fill="#c0c0c0"/><rect x="470" y="663" width="1" height="37" fill="#c0c0c0"/><rect x="478" y="665" width="1" height="35" fill="#c0c0c0"/><rect x="486" y="675" width="1" height="25" fill="#c0c0c0"/><rect x="494" y="689" width="1" height="11" fill="#c0c0c0"/><rect x="502" y="699" width="1" height="1" fill="#c0c0c0"/><rect x="510" y="699" width="1" height="1" fill="#c0c0c0"/><rect x="518" y="699" width="1" height="4" fill="#c0c0c0"/><rect x="526" y="699" width="1" height="5" fill="#c0c0c0"/><rect x="534" y="699" width="1" height="18" fill="#c0c0c0"/><rect x="542" y="699" width="1" height="28" fill="#c0c0c0"/><rect x="550" y="699" width="1" height="36" fill="#c0c0c0"/><rect x="558" y="699" width="1" height="45" fill="#c0c0c0"/><rect x="566" y="699" width="1" height="47" fill="#c0c0c0"/><rect x="574" y="699" width="1" height="47" fill="#c0c0c0"/><rect x="582" y="699" width="1" height="37" fill="#c0c0c0"/><rect x="590" y="699" width="1" height="32" fill="#c0c0c0"/><rect x="598" y="699" width="1" height="23" fill="#c0c0c0"/><rect x="606" y="699" width="1" height="13" fill="#c0c0c0"/><rect x="614" y="699" width="1" height="4" fill="#c0c0c0"/><rect x="622" y="699" width="1" height="3" fill="#c0c0c0"/><rect x="630" y="696" width="1" height="4" fill="#c0c0c0"/><rect x="638" y="687" width="1" height="13" fill="#c0c0c0"/><rect x="646" y="689" width="1" height="11" fill="#c0c0c0"/><rect x="654" y="686" width="1" height="14" fill="#c0c0c0"/><rect x="662" y="685" width="1" height="15" fill="#c0c0c0"/><rect x="670" y="685" width="1" height="15" fill="#c0c0c0"/><rect x="678" y="688" width="1" height="12" fill="#c0c0c0"/><rect x="686" y="686" width="1" height="14" fill="#c0c0c0"/><rect x="694" y="688" width="1" height="12" fill="#c0c0c0"/><rect x="702" y="695" width="1" height="5" fill="#c0c0c0"/><rect x="710" y="699" width="1" height="1" fill="#c0c0c0"/><rect x="718" y="699" width="1" height="8" fill="#c0c0c0"/><rect x="726" y="699" width="1" height="20" fill="#c0c0c0"/><rect x="734" y="699" width="1" height="31" fill="#c0c0c0"/><rect x="742" y="699" width="1" height="34" fill="#c0c0c0"/><rect x="750" y="699" width="1" height="39" fill="#c0c0c0"/><rect x="758" y="699" width="1" height="42" fill="#c0c0c0"/><rect x="766" y="699" width="1" height="47" fill="#c0c0c0"/><rect x="774" y="699" width="1" height="56" fill="#c0c0c0"/><rect x="782" y="699" width="1" height="54" fill="#c0c0c0"/><rect x="790" y="699" width="1" height="53" fill="#c0c0c0"/><rect x="798" y="699" width="1" height="52" fill="#c0c0c0"/><rect x="806" y="699" width="1" height="50" fill="#c0c0c0"/><rect x="814" y="699" width="1" height="51" fill="#c0c0c0"/><rect x="822" y="699" width="1" height="46" fill="#c0c0c0"/><rect x="830" y="699" width="1" height="42" fill="#c0c0c0"/><rect x="838" y="699" width="1" height="35" fill="#c0c0c0"/><rect x="846" y="699" width="1" height="31" fill="#c0c0c0"/><rect x="854" y="699" width="1" height="26" fill="#c0c0c0"/><rect x="862" y="699" width="1" height="14" fill="#c0c0c0"/><rect x="870" y="699" width="1" height="5" fill="#c0c0c0"/><rect x="878" y="695" width="1" height="5" fill="#c0c0c0"/><rect x="886" y="685" width="1" height="15" fill="#c0c0c0"/><rect x="894" y="674" width="1" height="26" fill="#c0c0c0"/><rect x="902" y="666" width="1" height="34" fill="#c0c0c0"/><rect x="910" y="657" width="1" height="43" fill="#c0c0c0"/><rect x="918" y="656" width="1" height="44" fill="#c0c0c0"/><rect x="926" y="656" width="1" height="44" fill="#c0c0c0"/><rect x="934" y="654" width="1" height="46" fill="#c0c0c0"/><rect x="942" y="654" width="1" height="46" fill="#c0c0c0"/><rect x="950" y="653" width="1" height="47" fill="#c0c0c0"/><rect x="958" y="651" width="1" height="49" fill="#c0c0c0"/><rect x="966" y="647" width="1" height="53" fill="#c0c0c0"/><rect x="974" y="643" width="1" height="57" fill="#c0c0c0"/><rect x="982" y="641" width="1" height="59" fill="#c0c0c0"/><rect x="990" y="636" width="1" height="64" fill="#c0c0c0"/><rect x="998" y="632" width="1" height="68" fill="#c0c0c0"/><rect x="1006" y="637" width="1" height="63" fill="#c0c0c0"/><rect x="1014" y="644" width="1" height="56" fill="#c0c0c0"/><rect x="1022" y="649" width="1" height="51" fill="#c0c0c0"/><rect x="1030" y="652" width="1" height="48" fill="#c0c0c0"/><rect x="1038" y="655" width="1" height="45" fill="#c0c0c0"/><rect x="1046" y="658" width="1" height="42" fill="#c0c0c0"/><rect x="1054" y="660" width="1" height="40" fill="#c0c0c0"/><rect x="1062" y="668" width="1" height="32" fill="#c0c0c0"/><rect x="1070" y="677" width="1" height="23" fill="#c0c0c0"/><rect x="1078" y="683" width="1" height="17" fill="#c0c0c0"/><rect x="1086" y="690" width="1" height="10" fill="#c0c0c0"/><rect x="1094" y="696" width="1" height="4" fill="#c0c0c0"/><rect x="1102" y="697" width="1" height="3" fill="#c0c0c0"/><rect x="1110" y="688" width="1" height="12" fill="#c0c0c0"/><rect x="1118" y="679" width="1" height="21" fill="#c0c0c0"/><rect x="1126" y="686" width="1" height="14" fill="#c0c0c0"/><rect x="1134" y="699" width="1" height="3" fill="#c0c0c0"/><rect x="1142" y="699" width="1" height="14" fill="#c0c0c0"/><rect x="1150" y="699" width="1" height="22" fill="#c0c0c0"/><rect x="1158" y="699" width="1" height="19" fill="#c0c0c0"/><rect x="1166" y="699" width="1" height="30" fill="#c0c0c0"/><rect x="1174" y="699" width="1" height="48" fill="#c0c0c0"/><rect x="1182" y="699" width="1" height="55" fill="#c0c0c0"/><rect x="1190" y="699" width="1" height="58" fill="#c0c0c0"/><rect x="1198" y="699" width="1" height="59" fill="#c0c0c0"/><rect x="1206" y="699" width="1" height="59" fill="#c0c0c0"/><rect x="1214" y="699" width="1" height="52" fill="#c0c0c0"/><rect x="1222" y="699" width="1" height="42" fill="#c0c0c0"/><rect x="1230" y="699" width="1" height="30" fill="#c0c0c0"/><rect x="1238" y="699" width="1" height="21" fill="#c0c0c0"/><rect x="1246" y="699" width="1" height="16" fill="#c0c0c0"/><rect x="1254" y="699" width="1" height="13" fill="#c0c0c0"/><rect x="1262" y="699" width="1" height="2" fill="#c0c0c0"/><rect x="1270" y="699" width="1" height="1" fill="#c0c0c0"/><rect x="1278" y="699" width="1" height="1" fill="#c0c0c0"/><rect x="1286" y="697" width="1" height="3" fill="#c0c0c0"/>
<polyline points="0.0,642.5 10.0,644.5 22.5,648.8 37.5,656.0 50.0,660.0 65.0,667.5 82.5,680.0 100.0,690.0 117.5,702.0 135.0,705.5 142.5,705.0 157.5,697.5 175.0,680.0 192.5,663.8 212.5,641.0 230.0,623.8 246.0,612.0 257.5,606.0 271.0,604.0 282.5,606.0 295.0,610.5 310.0,612.5 325.0,610.5 337.5,608.0 355.0,607.5 370.0,607.5 380.0,611.0 395.0,622.5 410.0,637.0 420.0,645.0 438.8,660.8 457.5,669.5 490.0,670.5 495.0,673.0 510.0,676.2 525.0,683.0 542.5,697.5 560.0,715.0 575.0,726.2 590.0,732.0 601.0,733.8 617.5,730.0 630.0,722.5 645.0,710.0 657.5,701.8 672.5,693.2 685.0,690.0 697.5,687.5 710.0,688.2 721.0,690.8 735.0,699.5 752.5,711.2 770.0,726.2 790.0,741.2 807.5,746.2 820.0,750.0 837.5,748.0 852.5,742.5 866.0,736.2 882.5,722.5 900.0,705.0 915.0,690.0 930.0,676.2 945.0,665.0 960.0,657.0 975.0,651.2 995.0,646.2 1010.0,643.0 1025.0,641.2 1037.5,642.0 1055.0,646.2 1070.0,653.8 1085.0,663.8 1097.5,671.2 1111.0,679.5 1122.5,682.5 1140.0,690.0 1155.0,697.5 1167.5,703.8 1182.5,716.2 1198.5,733.3 1206.7,740.5 1217.0,745.2 1229.4,747.2 1241.7,745.2 1254.0,739.0 1266.4,727.7 1276.7,719.9 1285.3,713.3" fill="none" stroke="#ff0000" stroke-width="1" stroke-dasharray="3 3"/>
<line x1="-1" y1="802.5" x2="1626" y2="802.5" stroke="#c0c0c0" stroke-width="1" stroke-dasharray="3 3"/>
<line x1="-1" y1="849.5" x2="1626" y2="849.5" stroke="#c0c0c0" stroke-width="1" stroke-dasharray="3 3"/>
<line x1="-1" y1="905.5" x2="1626" y2="905.5" stroke="#c0c0c0" stroke-width="1" stroke-dasharray="3 3"/>
<polyline points="0.0,831.8 6.0,843.8 14.0,848.0 22.0,848.5 30.0,836.8 38.0,830.0 46.0,835.5 54.0,840.5 62.0,863.0 70.0,873.0 78.0,878.5 86.0,869.2 94.0,869.2 102.0,849.2 110.0,851.8 118.0,834.2 126.0,835.5 134.0,835.5 142.0,832.5 150.0,826.8 158.0,817.5 166.0,816.2 174.0,815.0 182.0,820.5 190.0,813.8 198.0,806.2 206.0,805.0 214.0,809.2 222.0,807.2 230.0,808.5 238.0,813.5 246.0,824.2 254.0,820.5 262.0,820.5 270.0,823.5 278.0,825.5 286.0,830.0 294.0,828.0 302.0,803.0 310.0,806.8 318.0,804.2 326.0,821.2 334.0,819.2 342.0,843.0 350.0,838.5 358.0,837.2 366.0,839.2 374.0,837.2 382.0,837.2 390.0,848.8 398.0,860.0 406.0,851.8 414.0,846.2 422.0,848.0 430.0,850.5 438.0,846.2 446.0,832.5 454.0,831.2 462.0,831.2 470.0,841.0 478.0,843.0 486.0,856.8 494.0,865.0 502.0,865.5 510.0,851.2 518.0,854.5 526.0,852.5 534.0,868.0 542.0,870.5 550.0,869.2 558.0,872.5 566.0,865.0 574.0,861.2 582.0,845.5 590.0,850.5 598.0,844.2 606.0,840.5 614.0,839.2 622.0,849.8 630.0,840.5 638.0,835.0 646.0,849.8 654.0,844.2 662.0,844.0 670.0,846.0 678.0,851.8 686.0,843.0 694.0,849.2 702.0,857.5 710.0,855.0 718.0,863.0 726.0,869.2 734.0,870.5 742.0,862.2 750.0,865.5 758.0,865.5 766.0,868.0 774.0,875.5 782.0,860.5 790.0,861.5 798.0,861.5 806.0,861.5 814.0,866.2 822.0,855.5 830.0,855.5 838.0,849.2 846.0,852.5 854.0,851.2 862.0,834.2 870.0,838.5 878.0,833.5 886.0,829.2 894.0,825.5 902.0,825.5 910.0,821.2 918.0,836.2 926.0,836.2 934.0,832.2 942.0,833.5 950.0,832.2 958.0,828.0 966.0,824.2 974.0,821.2 982.0,822.2 990.0,816.8 998.0,815.0 1006.0,837.2 1014.0,843.5 1022.0,840.5 1030.0,838.5 1038.0,837.2 1046.0,838.5 1054.0,836.0 1062.0,854.2 1070.0,858.5 1078.0,856.2 1086.0,861.2 1094.0,862.5 1102.0,851.8 1110.0,829.2 1118.0,826.2 1126.0,853.8 1134.0,870.5 1142.0,866.2 1150.0,866.2 1158.0,849.8 1166.0,866.0 1174.0,875.5 1182.0,866.8 1190.0,863.0 1198.0,861.2 1206.0,862.5 1214.0,854.0 1222.0,845.0 1230.0,843.3 1238.0,843.3 1246.0,848.4 1254.0,848.4 1262.0,838.3 1270.0,844.3 1278.0,848.8 1286.0,847.3" fill="none" stroke="#1e90ff" stroke-width="1"/>
<rect x="0" y="29" width="1627" height="1" fill="#000"/><rect x="1626" y="29" width="1" height="901" fill="#000"/><rect x="0" y="582" width="1627" height="1" fill="#000"/><rect x="0" y="584" width="1627" height="1" fill="#000"/><rect x="0" y="767" width="1627" height="1" fill="#000"/><rect x="0" y="769" width="1627" height="1" fill="#000"/><rect x="0" y="929" width="1627" height="1" fill="#000"/><rect x="1626" y="583" width="1" height="1" fill="#fff"/><rect x="1626" y="768" width="1" height="1" fill="#fff"/><rect x="62" y="930" width="1" height="3" fill="#000"/><rect x="126" y="930" width="1" height="3" fill="#000"/><rect x="190" y="930" width="1" height="3" fill="#000"/><rect x="254" y="930" width="1" height="3" fill="#000"/><rect x="318" y="930" width="1" height="3" fill="#000"/><rect x="382" y="930" width="1" height="3" fill="#000"/><rect x="446" y="930" width="1" height="3" fill="#000"/><rect x="510" y="930" width="1" height="3" fill="#000"/><rect x="574" y="930" width="1" height="3" fill="#000"/><rect x="638" y="930" width="1" height="3" fill="#000"/><rect x="702" y="930" width="1" height="3" fill="#000"/><rect x="766" y="930" width="1" height="3" fill="#000"/><rect x="830" y="930" width="1" height="3" fill="#000"/><rect x="894" y="930" width="1" height="3" fill="#000"/><rect x="958" y="930" width="1" height="3" fill="#000"/><rect x="1022" y="930" width="1" height="3" fill="#000"/><rect x="1086" y="930" width="1" height="3" fill="#000"/><rect x="1150" y="930" width="1" height="3" fill="#000"/><rect x="1214" y="930" width="1" height="3" fill="#000"/><rect x="1278" y="930" width="1" height="3" fill="#000"/><polygon points="1294,30 1303,30 1298.5,35" fill="#b4b4b4"/>
<rect x="1627" y="51" width="2" height="1" fill="#000"/>
<rect x="1627" y="84" width="2" height="1" fill="#000"/>
<rect x="1627" y="117" width="2" height="1" fill="#000"/>
<rect x="1627" y="150" width="2" height="1" fill="#000"/>
<rect x="1627" y="183" width="2" height="1" fill="#000"/>
<rect x="1627" y="216" width="2" height="1" fill="#000"/>
<rect x="1627" y="249" width="2" height="1" fill="#000"/>
<rect x="1627" y="282" width="2" height="1" fill="#000"/>
<rect x="1627" y="315" width="2" height="1" fill="#000"/>
<rect x="1627" y="348" width="2" height="1" fill="#000"/>
<rect x="1627" y="381" width="2" height="1" fill="#000"/>
<rect x="1627" y="414" width="2" height="1" fill="#000"/>
<rect x="1627" y="447" width="2" height="1" fill="#000"/>
<rect x="1627" y="480" width="2" height="1" fill="#000"/>
<rect x="1627" y="513" width="2" height="1" fill="#000"/>
<rect x="1627" y="546" width="2" height="1" fill="#000"/>
<rect x="1627" y="579" width="2" height="1" fill="#000"/>
<rect x="1627" y="585" width="2" height="1" fill="#000"/>
<rect x="1627" y="699" width="2" height="1" fill="#000"/>
<rect x="1627" y="766" width="2" height="1" fill="#000"/>
<rect x="1627" y="771" width="2" height="1" fill="#000"/>
<rect x="1627" y="802" width="2" height="1" fill="#000"/>
<rect x="1627" y="849" width="2" height="1" fill="#000"/>
<rect x="1627" y="905" width="2" height="1" fill="#000"/></svg>
<div class="ax" style="top:47px">23647.5</div><div class="ax" style="top:80px">23584.5</div><div class="ax" style="top:113px">23520.0</div><div class="ax" style="top:146px">23455.5</div><div class="ax" style="top:179px">23391.0</div><div class="ax" style="top:212px">23326.5</div><div class="ax" style="top:245px">23262.0</div><div class="ax" style="top:278px">23199.0</div><div class="ax" style="top:311px">23134.5</div><div class="ax" style="top:344px">23070.0</div><div class="ax" style="top:377px">23007.0</div><div class="ax" style="top:410px">22942.5</div><div class="ax" style="top:443px">22878.0</div><div class="ax" style="top:476px">22813.5</div><div class="ax" style="top:509px">22750.5</div><div class="ax" style="top:542px">22686.0</div><div class="ax" style="top:575px">22621.5</div><div class="ax" style="left:1630px;top:587px">144.3</div><div class="ax" style="left:1630px;top:695px">0.00</div><div class="ax" style="left:1630px;top:756px">-85.54</div><div class="ax" style="left:1630px;top:772px">100</div><div class="ax" style="left:1630px;top:798px">80</div><div class="ax" style="left:1630px;top:845px">50</div><div class="ax" style="left:1630px;top:901px">15</div><div class="ax" style="left:1630px;top:918px">0</div><div class="pb" style="top:137px;background:#ff0000">23468.8</div><div class="pb" style="top:167px;background:#ff0000">23410.5</div><div class="pb" style="top:193px;background:#32cd32">23360.1</div><div class="pb" style="top:214px;background:#000000">23322.5</div><div class="pb" style="top:247px;background:#0000ff">23255.3</div><div class="pb" style="top:286px;background:#0000ff">23179.7</div><div class="tm" style="left:-3px">29 Oct 2019</div><div class="tm" style="left:61px">31 Oct 04:00</div><div class="tm" style="left:125px">1 Nov 14:55</div><div class="tm" style="left:189px">4 Nov 23:30</div><div class="tm" style="left:253px">6 Nov 04:00</div><div class="tm" style="left:317px">7 Nov 14:55</div><div class="tm" style="left:381px">10 Nov 23:30</div><div class="tm" style="left:445px">12 Nov 04:00</div><div class="tm" style="left:509px">13 Nov 14:55</div><div class="tm" style="left:573px">14 Nov 23:30</div><div class="tm" style="left:637px">18 Nov 04:00</div><div class="tm" style="left:701px">19 Nov 14:55</div><div class="tm" style="left:765px">20 Nov 23:30</div><div class="tm" style="left:829px">22 Nov 04:00</div><div class="tm" style="left:893px">25 Nov 14:55</div><div class="tm" style="left:957px">26 Nov 23:30</div><div class="tm" style="left:1021px">28 Nov 04:00</div><div class="tm" style="left:1085px">29 Nov 14:55</div><div class="tm" style="left:1149px">2 Dec 23:30</div><div class="tm" style="left:1213px">4 Dec 04:00</div><div class="tm" style="left:1277px">5 Dec 14:55</div>
<div class="lb" style="left:13px;top:32px;letter-spacing:-0.36px">JPN225-,H4&nbsp; 23300.0 23327.5 23247.5 23322.5</div>
<svg class="ch" style="left:1px;top:35px" width="8" height="6"><polygon points="0,5 7,5 3.5,1" fill="#000"/></svg>
<div class="lb" style="left:2px;top:588px">MACD(12,26,9) 4.42 -16.56</div>
<div class="lb" style="left:2px;top:773px">RSI(14) 51.8640</div>
<div id="big">23360.1</div>
<svg class="ch" style="left:1406px;top:196px" width="12" height="6" shape-rendering="crispEdges"><rect x="0" y="3" width="8" height="1" fill="#f00"/><rect x="8" y="1" width="3" height="4" fill="#fff" stroke="none"/><path d="M8.5 1.5h2v3h-2z" fill="#fff" stroke="#f00" stroke-width="1"/></svg>
<div id="cn">多空转折点</div>
<div id="tb"></div><div id="tb1"></div><div id="tb2"></div>
<div class="prs" style="left:261px;width:25px"></div>
<div class="prs" style="left:413px;width:25px"></div>
<div class="prs" style="left:441px;width:25px"></div>
<div class="prs" style="left:601px;width:25px"></div>
<div class="prs" style="left:1047px;width:25px"></div>
<div class="sep" style="left:223px;top:0;height:25px"></div><div class="sep" style="left:224px;background:#fff;top:0;height:25px"></div>
<div class="sep" style="left:318px"></div><div class="sep" style="left:319px;background:#fff"></div>
<div class="sep" style="left:408px"></div><div class="sep" style="left:409px;background:#fff"></div>
<div class="sep" style="left:470px"></div><div class="sep" style="left:471px;background:#fff"></div>
<div class="sep" style="left:591px;top:0;height:25px"></div><div class="sep" style="left:592px;background:#fff;top:0;height:25px"></div>
<div class="sep" style="left:658px"></div><div class="sep" style="left:659px;background:#fff"></div>
<div class="sep" style="left:897px;top:0;height:25px"></div><div class="sep" style="left:898px;background:#fff;top:0;height:25px"></div>
<div class="sep" style="left:1158px"></div><div class="sep" style="left:1159px;background:#fff"></div>
<div class="grip" style="left:227px"></div>
<div class="grip" style="left:595px"></div>
<div class="grip" style="left:901px"></div>
<div class="dd" style="left:502px"></div>
<div class="dd" style="left:541px"></div>
<div class="dd" style="left:580px"></div>
<div class="dd" style="left:886px"></div>
<div class="tt" style="left:16px">新订单</div>
<div class="tt" style="left:167.500px">自动交易</div>
<div class="tf" style="left:912.5px">M1</div>
<div class="tf" style="left:940.5px">M5</div>
<div class="tf" style="left:966px">M15</div>
<div class="tf" style="left:994.5px">M30</div>
<div class="tf" style="left:1025.5px">H1</div>
<div class="tf" style="left:1052.5px">H4</div>
<div class="tf" style="left:1081px">D1</div>
<div class="tf" style="left:1108.5px">W1</div>
<div class="tf" style="left:1135.5px">MN</div>
<svg class="ch" width="1673" height="25" viewBox="0 0 1673 25"><path d="M-0.500 6.500h6.500l3 3v7.500h-9.500z" fill="#fdfdfd" stroke="#8c8c8c" stroke-width="1"/><path d="M6 6.500v3h3" fill="none" stroke="#a0a0a0" stroke-width="1"/><path d="M0 9.500h4.500M0 11.500h6.500M0 13.500h3" stroke="#a8a8a8" stroke-width="1"/><path d="M5.500 12v3.500H2v3.600h3.500V22.600h3.800v-3.500H12.800v-3.600H9.300V12z" fill="#1fdc1f" stroke="#0c8c0c" stroke-width="1"/><defs><linearGradient id="gb" x1="0" y1="0" x2="1" y2="1"><stop offset="0" stop-color="#fff2a8"/><stop offset="1" stop-color="#d89a14"/></linearGradient></defs><path d="M70 6.200L80 14.300L72 20.800L63.800 15z" fill="#c08a10" stroke="#9a6c08" stroke-width="0.800"/><path d="M70 6.800L78.800 13.600L72 18.600L65 14.500z" fill="url(#gb)"/><rect x="95.500" y="5.500" width="9" height="11" fill="#2d8ee8" stroke="#1a62c0"/><rect x="98" y="7.500" width="6" height="2" fill="#bfe0ff"/><rect x="98" y="11" width="6" height="1.500" fill="#8cc4f8"/><path d="M95 20.500a3 3 0 0 1 0-6a4 4 0 0 1 7.500-1.500a3.500 3.500 0 0 1 3 7.500z" fill="#eef4fc" stroke="#5a86c8" stroke-width="1"/><circle cx="128" cy="13" r="7" fill="none" stroke="#8fb0e0" stroke-width="1.300"/><circle cx="128" cy="13" r="4.500" fill="none" stroke="#5c8ad0" stroke-width="1.300"/><path d="M128 13v8.500" stroke="#2f9a2f" stroke-width="2"/><path d="M128 20.500a7.500 7.500 0 0 0 7.500-7.500" stroke="#4ab04a" stroke-width="2" fill="none"/><circle cx="128" cy="12.500" r="1.800" fill="#2a62c0"/><path d="M148.500 12.500h14l-6.500 8.500z" fill="#f0cf50" stroke="#c09a18"/><ellipse cx="155.500" cy="10.500" rx="8" ry="3.500" fill="#6ea4dc" stroke="#3c74b8"/><ellipse cx="155.500" cy="8" rx="4" ry="3" fill="#7db0e4" stroke="#3c74b8"/><circle cx="160.500" cy="17.500" r="4" fill="#e02020" stroke="#a00808"/><rect x="159" y="16" width="3" height="3" fill="#fff"/><path d="M241.5 7.500v13.500M239.5 18.500h13.500" stroke="#555" stroke-width="1" fill="none"/><path d="M239.5 9.500l2-3l2 3zM250.5 16.500l3 2l-3 2z" fill="#555"/><path d="M247.500 8.500v8M247.500 9.500h2.500M245 15.500h2.500" stroke="#2f9a2f" stroke-width="1.400" fill="none"/><path d="M269.5 7.500v13.500M267.5 18.500h13.500" stroke="#555" stroke-width="1" fill="none"/><path d="M267.5 9.500l2-3l2 3zM278.5 16.500l3 2l-3 2z" fill="#555"/><path d="M275.500 5v12.500" stroke="#1f8a1f" stroke-width="1"/><rect x="273.500" y="7.500" width="4" height="7" fill="#38d838" stroke="#1f8a1f"/><path d="M297.5 7.500v13.500M295.5 18.500h13.500" stroke="#555" stroke-width="1" fill="none"/><path d="M295.5 9.500l2-3l2 3zM306.5 16.500l3 2l-3 2z" fill="#555"/><path d="M296 16c3-4 4.500-6.500 6.500-6s3 3 6 4.500" stroke="#2f9a2f" stroke-width="1.400" fill="none"/><path d="M337 15l5.500 5.500" stroke="#b08a18" stroke-width="3.200" stroke-linecap="round"/><path d="M337 15l5.500 5.500" stroke="#f0d050" stroke-width="1.600" stroke-linecap="round"/><circle cx="333" cy="11" r="5.500" fill="#d4e8fc" stroke="#3c7ccc" stroke-width="1.400"/><path d="M330 11h6" stroke="#2a66c0" stroke-width="1.800"/><path d="M333 8v6" stroke="#2a66c0" stroke-width="1.800"/><path d="M365 15l5.500 5.500" stroke="#b08a18" stroke-width="3.200" stroke-linecap="round"/><path d="M365 15l5.500 5.500" stroke="#f0d050" stroke-width="1.600" stroke-linecap="round"/><circle cx="361" cy="11" r="5.500" fill="#d4e8fc" stroke="#3c7ccc" stroke-width="1.400"/><path d="M358 11h6" stroke="#2a66c0" stroke-width="1.800"/><rect x="383.5" y="5.5" width="7.500" height="7.500" fill="#4aa02a"/><rect x="385.0" y="8.5" width="4.500" height="3" fill="#fff"/><rect x="385.0" y="9.7" width="4.500" height="0.800" fill="#4aa02a"/><rect x="391.5" y="5.5" width="7.500" height="7.500" fill="#2a5cd0"/><rect x="393.0" y="8.5" width="4.500" height="3" fill="#fff"/><rect x="393.0" y="9.7" width="4.500" height="0.800" fill="#2a5cd0"/><rect x="383.5" y="13.5" width="7.500" height="7.500" fill="#2a5cd0"/><rect x="385.0" y="16.5" width="4.500" height="3" fill="#fff"/><rect x="385.0" y="17.7" width="4.500" height="0.800" fill="#2a5cd0"/><rect x="391.5" y="13.5" width="7.500" height="7.500" fill="#4aa02a"/><rect x="393.0" y="16.5" width="4.500" height="3" fill="#fff"/><rect x="393.0" y="17.7" width="4.500" height="0.800" fill="#4aa02a"/><path d="M421.5 7.500v13.500M419.5 18.500h13.500" stroke="#555" stroke-width="1" fill="none"/><path d="M419.5 9.500l2-3l2 3zM430.5 16.500l3 2l-3 2z" fill="#555"/><path d="M426.500 9.500l4 3.200l-4 3.200z" fill="#38c838" stroke="#1f8a1f" stroke-width="1"/><path d="M449.5 7.500v13.500M447.5 18.500h13.500" stroke="#555" stroke-width="1" fill="none"/><path d="M447.5 9.500l2-3l2 3zM458.5 16.500l3 2l-3 2z" fill="#555"/><path d="M455.500 7v10" stroke="#2a6ab8" stroke-width="1.200"/><path d="M457 12.500h5M457 12.500l2.500-2.200M457 12.500l2.500 2.200" stroke="#c83a10" stroke-width="1.200" fill="none"/><path d="M483 7.500h-2.500v10.500h6" fill="#fff" stroke="#9a9a9a"/><path d="M482.500 5.500h6l3 3v8.500h-9z" fill="#fff" stroke="#8a8a8a"/><path d="M484.500 9v6M484.500 12h2" stroke="#666" stroke-width="1"/><path d="M488.500 11v3.500H485v4h3.500V22h4v-3.500H496v-4h-3.500V11z" fill="#22d422" stroke="#0e8a0e" stroke-width="1"/><circle cx="526" cy="12.700" r="7" fill="#fff" stroke="#1e5cc8" stroke-width="2.400"/><circle cx="526" cy="12.700" r="8.200" fill="none" stroke="#4a86e0" stroke-width="0.800"/><path d="M526 8.500v4.500h3.500" stroke="#555" stroke-width="1.200" fill="none"/><rect x="557.500" y="6.500" width="15" height="13" fill="#fff" stroke="#3a78d0"/><rect x="558" y="7" width="14" height="2.500" fill="#5a9ae8"/><path d="M558 14.500h14" stroke="#3a78d0"/><path d="M559.500 12.500l3-1l3 .5l3-1.500l2.500-.5" stroke="#c02020" stroke-width="1.200" fill="none"/><path d="M559.500 17.500l3-1.500l2.500 1.500l3-2.500l2.500 2" stroke="#2a9a2a" stroke-width="1.200" fill="none"/><path d="M609.500 6v11.500l2.800-2.600l2.200 5l1.900-.8l-2.200-4.900h3.800z" fill="#444" stroke="#333" stroke-width="0.500"/><path d="M641.500 6v6M641.500 15v6M634 13.500h6M643 13.500h6" stroke="#555" stroke-width="1.200"/><path d="M675.500 7v13.500" stroke="#555" stroke-width="1.400"/><path d="M698 13.500h12.500" stroke="#555" stroke-width="1.400"/><path d="M725.500 20.500L738.500 7.500" stroke="#555" stroke-width="1.300"/><path d="M752.500 14.500l12-8M752.500 18l13-8.500M755 20.500l11-7.500" stroke="#555" stroke-width="1"/><path d="M756 12l-1.500 7M759 10l-1.500 8M762 8l-1.500 8M765 6l-1.500 8" stroke="#555" stroke-width="0.800"/><text x="763" y="22.500" font-size="7" font-weight="bold" fill="#333" font-family="Liberation Sans, sans-serif">E</text><path d="M781 6.5H794" stroke="#555" stroke-width="1" stroke-dasharray="1 1" shape-rendering="crispEdges"/><path d="M781 10H794" stroke="#555" stroke-width="1" stroke-dasharray="1 1" shape-rendering="crispEdges"/><path d="M781 13.5H794" stroke="#555" stroke-width="1" stroke-dasharray="1 1" shape-rendering="crispEdges"/><path d="M781 17.5H790" stroke="#555" stroke-width="1" stroke-dasharray="1 1" shape-rendering="crispEdges"/><text x="790.500" y="22.500" font-size="7" font-weight="bold" fill="#333" font-family="Liberation Sans, sans-serif">F</text><text x="811" y="18" font-size="12.500" font-weight="bold" fill="#555" font-family="Liberation Sans, sans-serif">A</text><rect x="838.500" y="7.500" width="11" height="12" fill="none" stroke="#555" stroke-width="1" stroke-dasharray="1 1" shape-rendering="crispEdges"/><text x="840.300" y="18" font-size="11" font-weight="bold" fill="#555" font-family="Liberation Sans, sans-serif">T</text><path d="M868.500 7l3 3.200l-3 1.800l-3-1.800z" fill="#444"/><path d="M875.500 20l3-3.200l-3-1.800l-3 1.800z" fill="#444"/><path d="M867 13.500l2.500 3l5-5" stroke="#444" stroke-width="1.300" fill="none"/><circle cx="1628.600" cy="10.500" r="3.900" fill="#f4f6ff" stroke="#2a5fd8" stroke-width="1.300"/><path d="M1625.600 13.500l-4.300 4.300" stroke="#1c50c8" stroke-width="2.400" stroke-linecap="round"/><path d="M1663 15l2 2.500l-.3-3z" fill="#666"/><ellipse cx="1661" cy="10" rx="6.500" ry="4.600" fill="#fbfbfd" stroke="#8a8a8a" stroke-width="1"/><path d="M1650.500 17l-1.200 2.500l3-2z" fill="#666"/><ellipse cx="1652" cy="14" rx="4.800" ry="3.700" fill="#fbfbfd" stroke="#8a8a8a" stroke-width="1"/></svg>
<div class="sellt">SELL</div><div class="buyt">BUY</div>
<div class="pbx" style="left:1px;width:109px"><span class="s" style="left:16px">23321</span><span class="b" style="left:51px">.0</span></div>
<div class="pbx" style="left:112px;width:108px"><span class="s" style="left:14px">23344</span><span class="b" style="left:51px">.0</span></div>
<div class="ul" style="left:5px"></div><div class="ul2" style="left:5px"></div>
<div class="ul" style="left:172px"></div><div class="ul2" style="left:172px"></div>
<div class="vol"><div class="btn" style="left:0;border-right:1px solid #abadb3"></div><div class="btn" style="right:0;border-left:1px solid #abadb3"></div><span class="v">1.00</span>
<div class="dd" style="left:8px;top:9px"></div><div class="dd" style="right:7px;top:8px;border-top:none;border-bottom:3px solid #222"></div></div>
<div class="rb"></div>
</body></html>
